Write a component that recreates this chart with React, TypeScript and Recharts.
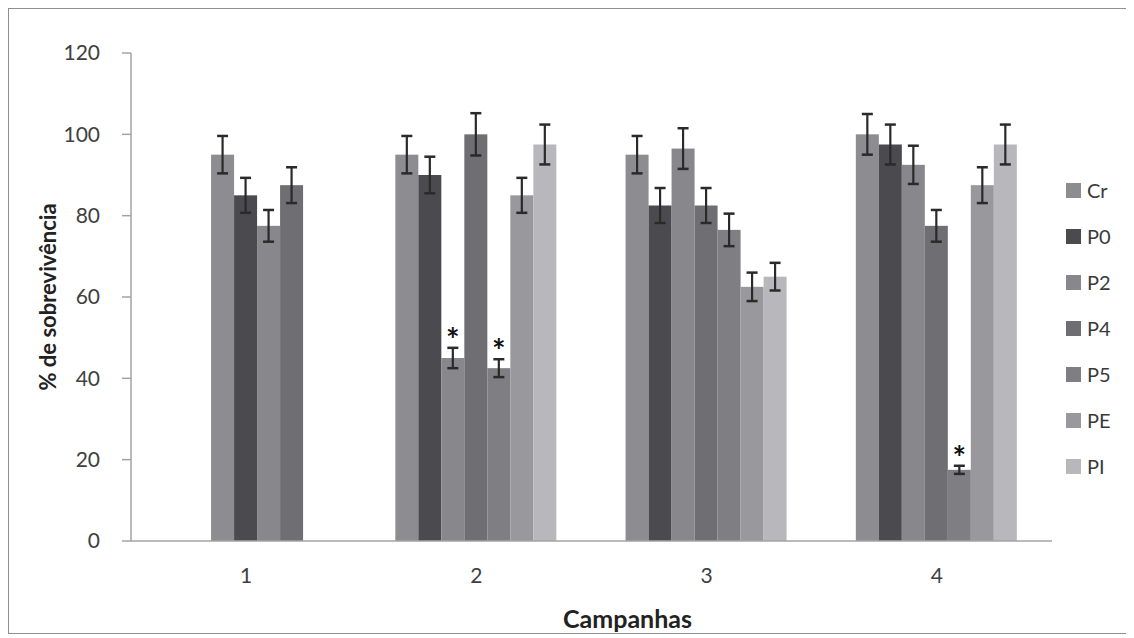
import React from 'react';
import { BarChart, Bar, XAxis, YAxis, Legend, Label } from 'recharts';

const campaigns = ['1', '2', '3', '4'];
const seriesNames = ['Cr', 'P0', 'P2', 'P4', 'P5', 'PE', 'PI'];

const crValues = [95, 95, 95, 100];
const crErrors = [4.6, 4.6, 4.6, 5];
const p0Values = [85, 90, 82.5, 97.5];
const p0Errors = [4.3, 4.5, 4.3, 4.9];
const p2Values = [77.5, 45, 96.5, 92.5];
const p2Errors = [3.9, 2.5, 5, 4.7];
const p4Values = [87.5, 100, 82.5, 77.5];
const p4Errors = [4.4, 5.2, 4.3, 3.9];
const p5Values = [null, 42.5, 76.5, 17.5];
const p5Errors = [null, 2.2, 4, 1];
const peValues = [null, 85, 62.5, 87.5];
const peErrors = [null, 4.3, 3.5, 4.4];
const piValues = [null, 97.5, 65, 97.5];
const piErrors = [null, 4.9, 3.4, 4.9];

// significance markers (*)
const p2Significant = [false, true, false, false];
const p5Significant = [false, true, false, true];

const yTicks = [0, 20, 40, 60, 80, 100, 120];

const valuesBySeries: Record<string, (number | null)[]> = {
  Cr: crValues, P0: p0Values, P2: p2Values, P4: p4Values, P5: p5Values, PE: peValues, PI: piValues,
};
const errorsBySeries: Record<string, (number | null)[]> = {
  Cr: crErrors, P0: p0Errors, P2: p2Errors, P4: p4Errors, P5: p5Errors, PE: peErrors, PI: piErrors,
};
const sigBySeries: Record<string, boolean[]> = {
  P2: p2Significant, P5: p5Significant,
};

const colors: Record<string, string> = {
  Cr: '#8d8d91',
  P0: '#4b4b4f',
  P2: '#88888c',
  P4: '#6f6f73',
  P5: '#7f7f83',
  PE: '#99999d',
  PI: '#b8b8bc',
};

// In the original, campaign 1's four bars sit two slots to the right inside their group
const FIRST_GROUP_SLOT_SHIFT = 2;

const data = campaigns.map((c, i) => {
  const row: any = { campaign: c };
  seriesNames.forEach((s) => {
    row[s] = valuesBySeries[s][i];
    row[s + '_err'] = errorsBySeries[s][i];
    row[s + '_sig'] = sigBySeries[s] ? sigBySeries[s][i] : false;
  });
  return row;
});

const FONT = 'Lato, "Open Sans", "DejaVu Sans", sans-serif';
const ERR_COLOR = '#2a2a2a';

const makeShape = (name: string) => (props: any) => {
  const { x, y, width, height, payload, fill } = props;
  const v = payload[name];
  if (v == null || !height) return <g />;
  const shift = payload.campaign === campaigns[0] ? FIRST_GROUP_SLOT_SHIFT * width : 0;
  const bx = x + shift;
  const pxPerUnit = height / v;
  const err = payload[name + '_err'] ?? 0;
  const cx = bx + width / 2;
  const top = y - err * pxPerUnit;
  const bot = y + err * pxPerUnit;
  const cap = 5.5;
  return (
    <g>
      <rect x={bx} y={y} width={width} height={height} fill={fill} />
      <line x1={cx} x2={cx} y1={top} y2={bot} stroke={ERR_COLOR} strokeWidth={2.2} />
      <line x1={cx - cap} x2={cx + cap} y1={top} y2={top} stroke={ERR_COLOR} strokeWidth={2.5} />
      <line x1={cx - cap} x2={cx + cap} y1={bot} y2={bot} stroke={ERR_COLOR} strokeWidth={2.5} />
      {payload[name + '_sig'] ? (
        <text x={cx} y={top + 4} textAnchor="middle" fontSize={32} fontWeight="bold" fill="#111" fontFamily={FONT}>
          *
        </text>
      ) : null}
    </g>
  );
};

const renderLegend = () => (
  <div style={{ display: 'flex', flexDirection: 'column', fontFamily: FONT }}>
    {seriesNames.map((n) => (
      <div key={n} style={{ display: 'flex', alignItems: 'center', height: 46 }}>
        <span style={{ display: 'inline-block', width: 15, height: 15, background: colors[n], marginRight: 6 }} />
        <span style={{ fontSize: 20, color: '#3a3a3a' }}>{n}</span>
      </div>
    ))}
  </div>
);

const YLabel = (props: any) => {
  const vb = props.viewBox || { x: 0, y: 0, width: 0, height: 0 };
  const cx = vb.x + 38;
  const cy = vb.y + vb.height / 2;
  return (
    <text
      x={cx}
      y={cy}
      transform={`rotate(-90, ${cx}, ${cy})`}
      textAnchor="middle"
      dominantBaseline="central"
      fontSize={22}
      fontWeight="bold"
      fill="#222"
      fontFamily={FONT}
    >
      % de sobrevivência
    </text>
  );
};

const XLabel = (props: any) => {
  const vb = props.viewBox || { x: 0, y: 0, width: 0, height: 0 };
  return (
    <text
      x={vb.x + vb.width / 2 + 36}
      y={vb.y + 87}
      textAnchor="middle"
      fontSize={25}
      fontWeight="bold"
      fill="#222"
      fontFamily={FONT}
    >
      Campanhas
    </text>
  );
};

export default function App() {
  return (
    <div
      style={{
        width: 1120,
        height: 626,
        boxSizing: 'border-box',
        border: '1px solid #8f8f8f',
        background: '#fff',
        fontFamily: FONT,
      }}
    >
      <BarChart
        width={1118}
        height={624}
        data={data}
        margin={{ top: 44, right: 15, bottom: 0, left: 0 }}
        barCategoryGap="14.8%"
        barGap={0}
      >
        <XAxis
          dataKey="campaign"
          tickLine={false}
          tickSize={0}
          tickMargin={27}
          height={92}
          axisLine={{ stroke: '#a3a3a3', strokeWidth: 1.5 }}
          tick={{ fill: '#404040', fontSize: 21, fontFamily: FONT }}
        >
          <Label content={<XLabel />} />
        </XAxis>
        <YAxis
          domain={[0, 120]}
          ticks={yTicks}
          width={122}
          tickSize={9}
          tickMargin={22}
          axisLine={{ stroke: '#a3a3a3', strokeWidth: 1.5 }}
          tickLine={{ stroke: '#a3a3a3', strokeWidth: 1.5 }}
          tick={{ fill: '#404040', fontSize: 21, fontFamily: FONT }}
        >
          <Label content={<YLabel />} />
        </YAxis>
        <Legend
          layout="vertical"
          align="right"
          verticalAlign="top"
          width={60}
          content={renderLegend}
          wrapperStyle={{ left: 1057, top: 158, width: 60 }}
        />
        {seriesNames.map((s) => (
          <Bar key={s} dataKey={s} fill={colors[s]} isAnimationActive={false} shape={makeShape(s)} />
        ))}
      </BarChart>
    </div>
  );
}
